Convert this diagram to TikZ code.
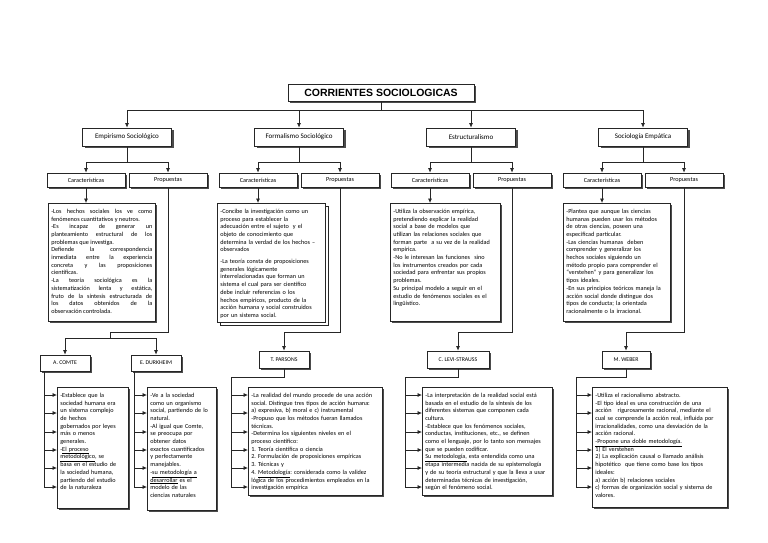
\documentclass[tikz,border=0pt]{standalone}
\usepackage{fontspec}
\setmainfont{Carlito}
\newfontfamily\titlefont{Liberation Sans}
\usetikzlibrary{arrows.meta,shadows}

\tikzset{
  >={Latex[length=4.5pt,width=4pt]},
  conn/.style={draw=black!85, line width=0.7pt},
  caja/.style={draw=black!85, line width=0.7pt, fill=white},
  sombra/.style={drop shadow={shadow xshift=2pt, shadow yshift=-2pt, fill=black!70, opacity=1}},
  doble/.style={general shadow={shadow xshift=3pt, shadow yshift=-3pt, fill=white, draw=black!85, line width=0.7pt}},
  titulobox/.style={caja, sombra, minimum width=186pt, minimum height=17pt, inner sep=0pt,
    font=\titlefont\bfseries\fontsize{10.5}{12}\selectfont},
  corriente/.style={caja, sombra, minimum width=89pt, minimum height=18pt, inner sep=0pt,
    font=\fontsize{7}{8}\selectfont},
  rama/.style={caja, sombra, minimum width=78pt, minimum height=14pt, inner sep=0pt,
    font=\fontsize{6.2}{7}\selectfont},
  autor/.style={caja, sombra, minimum height=16pt, inner sep=0pt,
    font=\fontsize{5.8}{7}\selectfont},
  texto/.style={caja, anchor=north west, align=left, inner xsep=3pt, inner ysep=4pt,
    text height=6pt, font=\fontsize{6.2}{7.7}\selectfont},
}

\begin{document}
\frenchspacing
\hyphenpenalty=10000
\begin{tikzpicture}[x=1pt,y=-1pt]
\useasboundingbox (0,0) rectangle (768,543);

\node (titulo) at (381,92.5) [titulobox] {CORRIENTES SOCIOLOGICAS};

\foreach \name/\etiq [count=\i from 0] in {emp/Empirismo Sociológico, form/Formalismo Sociológico,
    estr/Estructuralismo, socio/Sociología Empática} {%
  \pgfmathsetmacro{\cx}{127+172*\i}
  \node (\name) at (\cx,137) [corriente] {\etiq};
  \node (car\name) at (\cx-41,180) [rama] {Características};
  \node (pro\name) at (\cx+41,180) [rama] {Propuestas};
  \draw[conn,->] (titulo.south) -- ++(0,9) -| (\name.north);
  \draw[conn,->] (\name.south) -- ++(0,16) -| (car\name.north);
  \draw[conn,->] (\name.south) -- ++(0,16) -| (pro\name.north);
}

\node (txtemp) at (48,203) [texto, sombra, text width=101pt, align=justify, text depth=104pt]
{-Los hechos sociales los ve como\linebreak
fenómenos cuantitativos y neutros.\\
-Es incapaz de generar un\linebreak
planteamiento estructural de los\linebreak
problemas que investiga.\\
*Defiende la correspondencia\linebreak
inmediata entre la experiencia\linebreak
concreta y las proposiciones\linebreak
científicas.\\
-La teoría sociológica es la\linebreak
sistematización lenta y estática,\linebreak
fruto de la síntesis estructurada de\linebreak
los datos obtenidos de la\linebreak
observación controlada.};

\node (txtform) at (217,203) [texto, doble, text width=102pt]
{-Concibe la investigación como un\\
proceso para establecer la\\
adecuación entre el sujeto\ \ y el\\
objeto de conocimiento que\\
determina la verdad de los hechos –\\
observados\\[4pt]
-La teoría consta de proposiciones\\
generales lógicamente\\
interrelacionadas que forman un\\
sistema el cual para ser científico\\
debe incluir referencias o los\\
hechos empíricos, producto de la\\
acción humana y social construidos\\
por un sistema social.};

\node (txtestr) at (390,203) [texto, sombra, text width=104pt, text depth=104pt]
{-Utiliza la observación empírica,\\
pretendiendo explicar la realidad\\
social a base de modelos que\\
utilizan las relaciones sociales que\\
forman parte\ \ a su vez de la realidad\\
empírica.\\
-No le interesan las funciones\ \ sino\\
los instrumentos creados por cada\\
sociedad para enfrentar sus propios\\
problemas.\\
Su principal modelo a seguir en el\\
estudio de fenómenos sociales es el\\
lingüístico.};

\node (txtsocio) at (563,203) [texto, sombra, text width=101pt, text depth=104pt]
{-Plantea que aunque las ciencias\\
humanas pueden usar los métodos\\
de otras ciencias, poseen una\\
especificad particular.\\
-Las ciencias humanas\ \ deben\\
comprender y generalizar los\\
hechos sociales siguiendo un\\
método propio para comprender el\\
“verstehen” y para generalizar los\\
tipos ideales.\\
-En sus principios teóricos maneja la\\
acción social donde distingue dos\\
tipos de conducta; la orientada\\
racionalmente o la irracional.};

\foreach \name in {emp,form,estr,socio}
  \draw[conn,->] (car\name.south) -- (car\name.south |- txt\name.north);

\node (comte) at (65,363) [autor, minimum width=50pt] {A. COMTE};
\node (durk) at (156,363) [autor, minimum width=50pt] {E. DURKHEIM};
\node (parsons) at (284,359.5) [autor, minimum width=50pt, minimum height=17pt] {T. PARSONS};
\node (levi) at (458,359.5) [autor, minimum width=62pt, minimum height=17pt] {C. LEVI-STRAUSS};
\node (weber) at (626,359.5) [autor, minimum width=48pt, minimum height=17pt] {M. WEBER};

\coordinate (codo) at (110,332);
\coordinate (horq) at (110,338);
\draw[conn] (proemp.south) |- (codo) -- (horq);
\draw[conn,->] (horq) -| (comte.north);
\draw[conn,->] (horq) -| (durk.north);

\foreach \name/\aut in {form/parsons, estr/levi, socio/weber}
  \draw[conn,->] (pro\name.south) -- ++(0,145) -| (\aut.north);

\node (tcomte) at (57,387) [texto, sombra, text width=65pt, text depth=107pt]
{-Establece que la\\
sociedad humana era\\
un sistema complejo\\
de hechos\\
gobernados por leyes\\
más o menos\\
generales.\\
-\underline{El proceso}\\
\underline{metodológico}, se\\
basa en el estudio de\\
la sociedad humana,\\
partiendo del estudio\\
de la naturaleza};

\node (tdurk) at (147,387) [texto, sombra, text width=63pt, text depth=109pt]
{-Ve a la sociedad\\
como un organismo\\
social, partiendo de lo\\
natural.\\
-Al igual que Comte,\\
se preocupa por\\
obtener datos\\
exactos cuantificados\\
y perfectamente\\
manejables.\\
-\underline{su metodología a}\\
\underline{desarrollar} es el\\
modelo de las\\
ciencias naturales};

\node (tparsons) at (248,387) [texto, sombra, text width=128pt, text depth=94pt]
{-La realidad del mundo procede de una acción\\
social. Distingue tres tipos de acción humana:\\
a) expresiva, b) moral e c) instrumental\\
-Propuso que los métodos fueran llamados\\
técnicas.\\
-Determina los siguientes niveles en el\\
proceso científico:\\
1. Teoría científica o ciencia\\
2. Formulación de proposiciones empíricas\\
3. Técnicas y\\
4. \underline{Metodología}: considerada como la validez\\
lógica de los procedimientos empleados en la\\
investigación empírica};

\node (tlevi) at (422,387) [texto, sombra, text width=124pt, text depth=94pt]
{-La interpretación de la realidad social está\\
basada en el estudio de la síntesis de los\\
diferentes sistemas que componen cada\\
cultura.\\
-Establece que los fenómenos sociales,\\
conductas, instituciones, etc., se definen\\
como el lenguaje, por lo tanto son mensajes\\
que se pueden codificar.\\
\underline{Su metodología,} esta entendida como una\\
etapa intermedia nacida de su epistemología\\
y de su teoría estructural y que la lleva a usar\\
determinadas técnicas de investigación,\\
según el fenómeno social.};

\node (tweber) at (592,387) [texto, sombra, text width=129pt, text depth=106pt]
{-Utiliza el racionalismo abstracto.\\
-El tipo ideal es una construcción de una\\
acción\ \ \ rigurosamente racional, mediante el\\
cual se comprende la acción real, influida por\\
irracionalidades, como una desviación de la\\
acción racional.\\
\underline{-Propone una doble metodología.}\\
1) El verstehen\\
2) La explicación causal o llamado análisis\\
hipotético\ \ que tiene como base los tipos\\
ideales:\\
a) acción b) relaciones sociales\\
c) formas de organización social y sistema de\\
valores.};

\coordinate (piecomte) at (44,487);
\coordinate (piedurk) at (134,487);
\coordinate (pieparsons) at (231,487);
\coordinate (pielevi) at (405,487);
\coordinate (pieweber) at (576,487);

\draw[conn] (comte.south -| piecomte) -- (piecomte);
\draw[conn] (durk.south -| piedurk) -- (piedurk);
\foreach \aut in {parsons,levi,weber}
  \draw[conn] (\aut.south) -- ++(0,9) -| (pie\aut);

\foreach \aut in {comte,durk,parsons,levi,weber}
  \foreach \y in {395,413,432,450,468,487}
    \draw[conn,->] (pie\aut |- 0,\y) -- (t\aut.west |- 0,\y);
\end{tikzpicture}
\end{document}
